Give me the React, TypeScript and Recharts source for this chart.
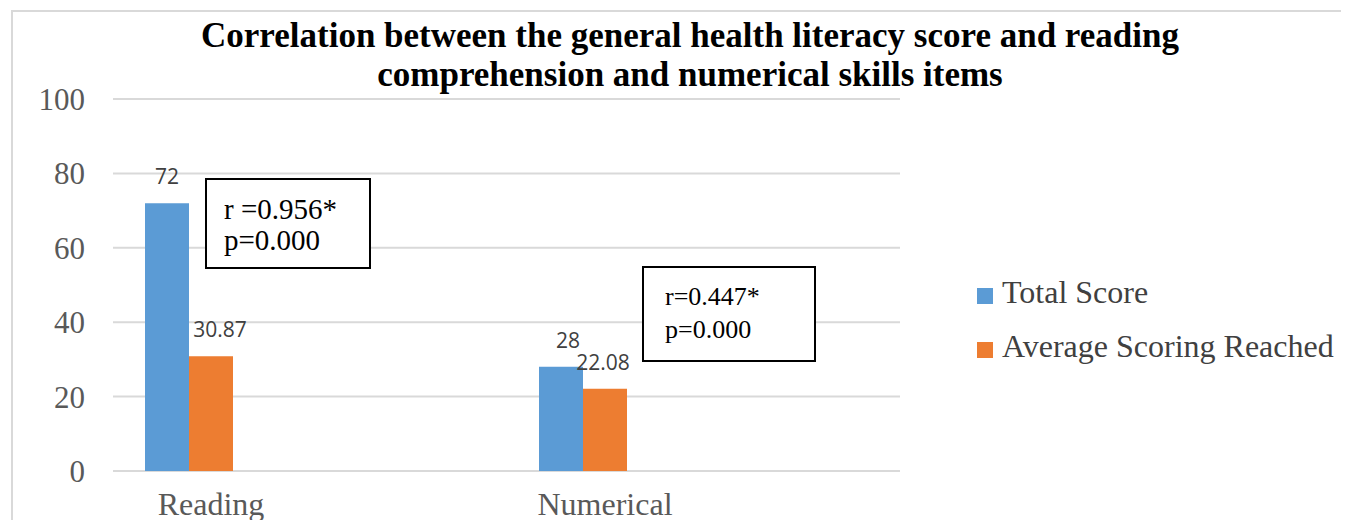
import React from 'react';
import { BarChart, Bar, XAxis, YAxis, CartesianGrid } from 'recharts';

const categories = ['Reading', 'Numerical'];
const totalScore = [72, 28];
const averageScoring = [30.87, 22.08];
const seriesNames = ['Total Score', 'Average Scoring Reached'];
const seriesColors = ['#5B9BD5', '#ED7D31'];
const yTicks = [0, 20, 40, 60, 80, 100];
const titleLines = [
  'Correlation between the general health literacy score and reading',
  'comprehension and numerical skills items',
];
const correlationTexts = [
  ['r =0.956*', 'p=0.000'],
  ['r=0.447*', 'p=0.000'],
];

// styling / placement constants (not data)
const totalNudge = [0, 7];
const avgNudge = [9, -2];
const boxes = [
  { x: 198, y: 171, w: 164, h: 89, tx: 216, ty1: 211, ty2: 242, fs: 29 },
  { x: 635, y: 259, w: 172, h: 94, tx: 657, ty1: 297, ty2: 330, fs: 26 },
];

const data = categories.map((c, i) => ({
  name: c,
  total: totalScore[i],
  avg: averageScoring[i],
}));

const W = 1341;
const H = 512;
const serif = '"Liberation Serif", "Times New Roman", serif';

const makeLabel = (nudge: number[]) => (props: any) => {
  const { x, y, width, value, index } = props;
  return (
    <text
      x={x + width / 2 + (nudge[index] || 0)}
      y={y - 19}
      textAnchor="middle"
      fill="#404040"
      fontFamily='"Open Sans", sans-serif'
      fontSize={21}
    >
      {value}
    </text>
  );
};

export default function App() {
  return (
    <div style={{ position: 'relative', width: W, height: H, overflow: 'hidden' }}>
      <style>{`html,body{overflow:hidden}`}</style>
      <div
        style={{
          position: 'absolute',
          left: 3,
          top: 2,
          width: W,
          height: H,
          borderTop: '2px solid #d9d9d9',
          borderLeft: '2px solid #d9d9d9',
          boxSizing: 'border-box',
        }}
      />
      <div style={{ position: 'absolute', left: 0, top: 0 }}>
        <BarChart
          width={W}
          height={H}
          data={data}
          margin={{ top: 91, right: 449, bottom: 0, left: 0 }}
          barGap={0}
        >
          <CartesianGrid vertical={false} stroke="#d9d9d9" strokeWidth={2} />
          <XAxis
            dataKey="name"
            height={49}
            axisLine={false}
            tickLine={false}
            tickMargin={15}
            padding={{ left: -121, right: 120 }}
            tick={{ fill: '#595959', fontSize: 32, fontFamily: serif, dx: 22 }}
          />
          <YAxis
            width={105}
            domain={[0, 100]}
            ticks={yTicks}
            axisLine={false}
            tickLine={false}
            tickMargin={22}
            tick={{ fill: '#595959', fontSize: 31, fontFamily: serif }}
          />
          <Bar
            dataKey="total"
            name={seriesNames[0]}
            fill={seriesColors[0]}
            barSize={44}
            isAnimationActive={false}
            label={makeLabel(totalNudge)}
          />
          <Bar
            dataKey="avg"
            name={seriesNames[1]}
            fill={seriesColors[1]}
            barSize={44}
            isAnimationActive={false}
            label={makeLabel(avgNudge)}
          />
        </BarChart>
      </div>
      <svg
        width={W}
        height={H}
        style={{ position: 'absolute', left: 0, top: 0, pointerEvents: 'none' }}
      >
        {titleLines.map((t, i) => (
          <text
            key={i}
            x={682}
            y={39 + i * 39}
            textAnchor="middle"
            fontFamily={serif}
            fontWeight="bold"
            fontSize={35}
            fill="#000"
          >
            {t}
          </text>
        ))}
        {boxes.map((b, i) => (
          <g key={i}>
            <rect x={b.x} y={b.y} width={b.w} height={b.h} fill="#fff" stroke="#000" strokeWidth={2} />
            <text x={b.tx} y={b.ty1} fontFamily={serif} fontSize={b.fs} fill="#000">
              {correlationTexts[i][0]}
            </text>
            <text x={b.tx} y={b.ty2} fontFamily={serif} fontSize={b.fs} fill="#000">
              {correlationTexts[i][1]}
            </text>
          </g>
        ))}
        {seriesNames.map((n, i) => (
          <g key={n}>
            <rect x={969} y={280 + i * 54} width={16} height={16} fill={seriesColors[i]} />
            <text x={994} y={295 + i * 54} fontFamily={serif} fontSize={32} fill="#404040">
              {n}
            </text>
          </g>
        ))}
      </svg>
    </div>
  );
}
